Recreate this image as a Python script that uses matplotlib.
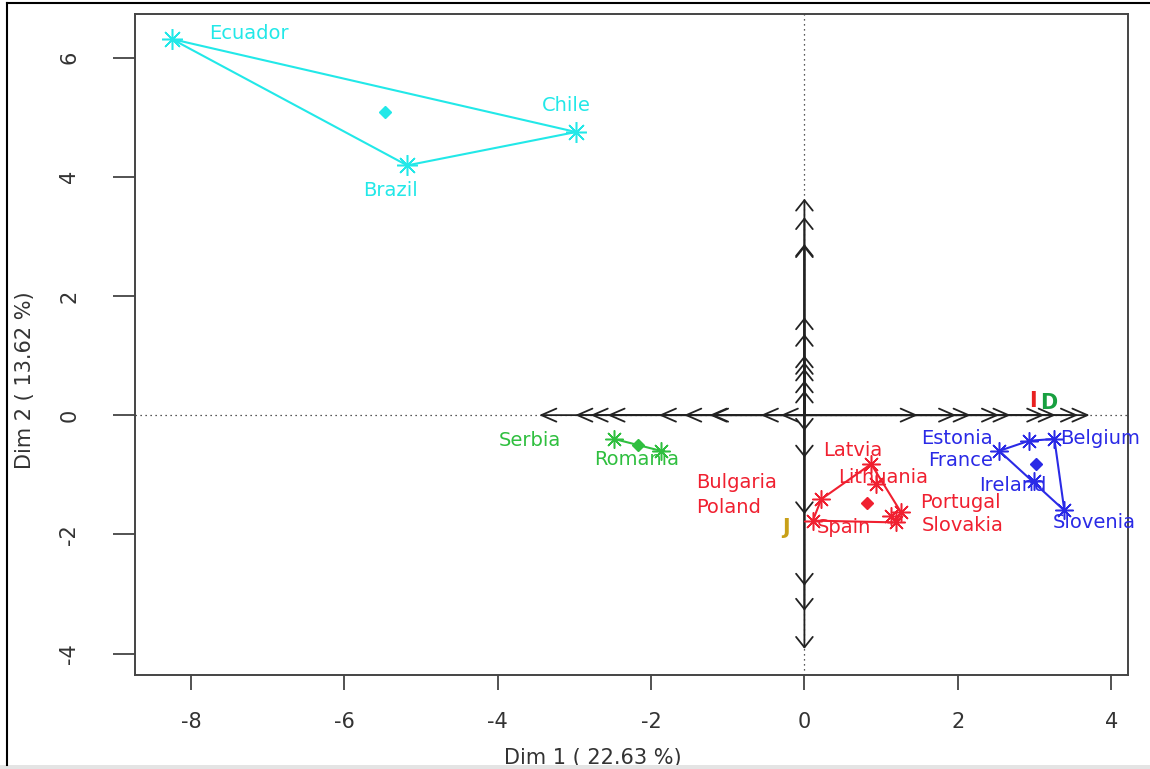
import numpy as np
import matplotlib
matplotlib.use("Agg")
import matplotlib.pyplot as plt
from matplotlib.lines import Line2D
from matplotlib.patches import Rectangle

# --- individuals (coordinates on Dim 1 / Dim 2), one list per cluster ---
cyan_names = ['Ecuador', 'Chile', 'Brazil']
cyan_x = [-8.25, -2.98, -5.18]
cyan_y = [6.31, 4.75, 4.19]

green_names = ['Serbia', 'Romania']
green_x = [-2.48, -1.87]
green_y = [-0.40, -0.60]

red_names = ['Latvia', 'Lithuania', 'Bulgaria', 'Spain', 'Poland', 'Portugal', 'Slovakia']
red_x = [0.87, 0.93, 0.22, 0.11, 1.13, 1.26, 1.19]
red_y = [-0.82, -1.15, -1.41, -1.77, -1.69, -1.63, -1.80]

blue_names = ['Estonia', 'France', 'Belgium', 'Ireland', 'Slovenia']
blue_x = [2.54, 2.93, 3.26, 3.00, 3.39]
blue_y = [-0.60, -0.43, -0.40, -1.10, -1.60]

# variable arrows projected on each axis
dim1_arrows = [-3.46, -2.99, -2.79, -2.57, -1.90, -1.57, -1.24, -1.22, -0.57, -0.31,
               1.48, 1.98, 2.17, 2.54, 2.69, 3.13, 3.28, 3.57, 3.72]
dim2_arrows = [3.63, 3.32, 2.87, 2.85, 1.64, 1.36, 1.00, 0.89, 0.78, 0.58, 0.41,
               -0.26, -0.71, -1.66, -2.86, -3.28, -3.92]

# supplementary letters
sup_names = ['I', 'D', 'J']
sup_x = [2.98, 3.19, -0.24]
sup_y = [0.24, 0.21, -1.90]

# where the country names sit (as in the original, not always next to the point)
label_pos = {
    'Ecuador': (-7.24, 6.40), 'Chile': (-3.11, 5.19), 'Brazil': (-5.40, 3.77),
    'Serbia': (-3.58, -0.43), 'Romania': (-2.19, -0.75),
    'Bulgaria': (-0.89, -1.13), 'Poland': (-0.99, -1.55), 'Latvia': (0.63, -0.60),
    'Lithuania': (1.02, -1.04), 'Portugal': (2.03, -1.46), 'Spain': (0.52, -1.88),
    'Slovakia': (2.07, -1.85), 'Estonia': (1.99, -0.40), 'France': (2.04, -0.76),
    'Belgium': (3.33, -0.40), 'Ireland': (2.72, -1.18), 'Slovenia': (3.78, -1.80),
}

groups = [
    (cyan_names, cyan_x, cyan_y, '#22e8e8', 15),
    (green_names, green_x, green_y, '#2fbf3f', 13),
    (red_names, red_x, red_y, '#f02030', 13),
    (blue_names, blue_x, blue_y, '#2a2ae6', 13),
]
sup_colors = ['#e82020', '#18a040', '#c8a018']


def hull(px, py):
    pts = sorted(zip(px, py))
    if len(pts) < 3:
        return pts

    def cross(o, a, b):
        return (a[0] - o[0]) * (b[1] - o[1]) - (a[1] - o[1]) * (b[0] - o[0])
    lower, upper = [], []
    for p in pts:
        while len(lower) >= 2 and cross(lower[-2], lower[-1], p) <= 0:
            lower.pop()
        lower.append(p)
    for p in reversed(pts):
        while len(upper) >= 2 and cross(upper[-2], upper[-1], p) <= 0:
            upper.pop()
        upper.append(p)
    h = lower[:-1] + upper[:-1]
    return h + [h[0]]


plt.rcParams['font.family'] = ['DejaVu Sans']
plt.rcParams['axes.unicode_minus'] = False
fig = plt.figure(figsize=(11.5, 7.69), dpi=100)
ax = fig.add_axes([135 / 1150, 1 - 675 / 769, (1128 - 135) / 1150, (675 - 14) / 769])

ax.axhline(0, color='#222222', lw=0.9, ls=(0, (1, 3)), zorder=1)
ax.axvline(0, color='#222222', lw=0.9, ls=(0, (1, 3)), zorder=1)

for v in dim1_arrows:
    ax.annotate('', xy=(v, 0), xytext=(0, 0), zorder=2,
                arrowprops=dict(arrowstyle='->,head_length=1.08,head_width=0.47',
                                color='#222222', lw=1.3, shrinkA=0, shrinkB=0,
                                mutation_scale=10))
for v in dim2_arrows:
    ax.annotate('', xy=(0, v), xytext=(0, 0), zorder=2,
                arrowprops=dict(arrowstyle='->,head_length=0.75,head_width=0.6',
                                color='#222222', lw=1.3, shrinkA=0, shrinkB=0,
                                mutation_scale=10))

for names, gx, gy, col, ms in groups:
    h = hull(gx, gy)
    ax.plot([p[0] for p in h], [p[1] for p in h], color=col, lw=1.5, zorder=3)
    ax.plot(gx, gy, ls='none', marker=(8, 2, 0), ms=ms, mew=1.1, color=col, zorder=4)
    ax.plot(np.mean(gx), np.mean(gy), ls='none', marker='D', ms=6.5, color=col, zorder=4)
    for n in names:
        lx, ly = label_pos[n]
        ha = 'left' if n == 'Belgium' else 'center'
        ax.text(lx, ly, n, color=col, fontsize=14, ha=ha, va='center',
                clip_on=False, zorder=5)

for n, sx, sy, c in zip(sup_names, sup_x, sup_y, sup_colors):
    ax.text(sx, sy, n, color=c, fontsize=15, fontweight='bold', ha='center',
            va='center', zorder=5)

ax.set_xlim(-8.73, 4.22)
ax.set_ylim(-4.36, 6.73)
ax.set_xticks([-8, -6, -4, -2, 0, 2, 4])
ax.set_yticks([-4, -2, 0, 2, 4, 6])
for s in ax.spines.values():
    s.set_color('#444444')
    s.set_linewidth(1.4)
ax.tick_params(axis='x', direction='out', length=11, width=1.3, color='#444444',
               labelsize=15, pad=16, labelcolor='#333333')
ax.tick_params(axis='y', direction='out', length=16, width=1.3, color='#444444',
               labelsize=15, pad=24, labelcolor='#333333', labelrotation=90)
for t in ax.get_yticklabels():
    t.set_va('center')

ax.set_xlabel('Dim 1 ( 22.63 %)', fontsize=15, color='#333333')
ax.xaxis.set_label_coords(0.461, -0.1256)
ax.xaxis.label.set_va('center')
ax.set_ylabel('Dim 2 ( 13.62 %)', fontsize=15, color='#333333')
ax.yaxis.set_label_coords(-0.111, 0.446)
ax.yaxis.label.set_va('center')

# thin frame of the original screenshot
fig.add_artist(Line2D([7 / 1150, 1], [1 - 3 / 769, 1 - 3 / 769], transform=fig.transFigure,
                      color='black', lw=1.5))
fig.add_artist(Line2D([7 / 1150, 7 / 1150], [1 - 3 / 769, 4 / 769], transform=fig.transFigure,
                      color='black', lw=1.5))
fig.add_artist(Rectangle((0, 0), 1, 4 / 769, transform=fig.transFigure,
                         color='#e4e4e4', lw=0))

fig.savefig('out.png', dpi=100, facecolor='white')
